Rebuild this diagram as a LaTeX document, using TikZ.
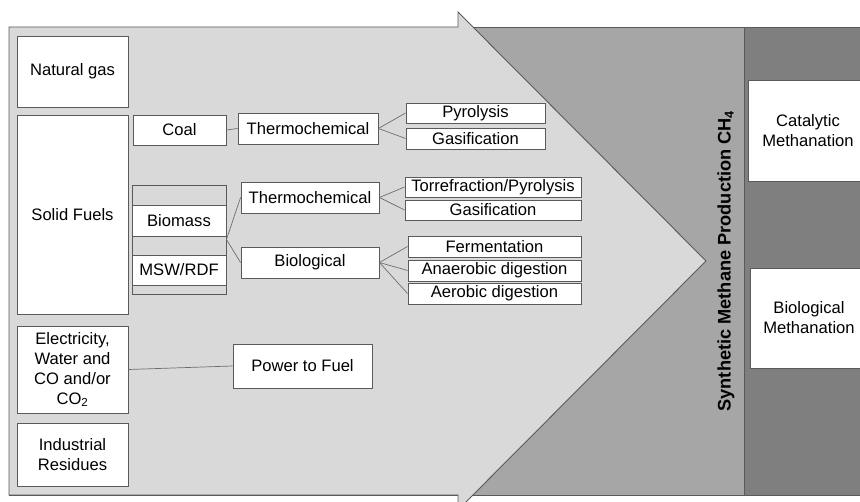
\documentclass[tikz,border=0pt]{standalone}
\usepackage{fontspec}
\setmainfont{Liberation Sans}
\definecolor{lightg}{HTML}{D9D9D9}
\definecolor{midg}{HTML}{A6A6A6}
\definecolor{darkg}{HTML}{7F7F7F}
\definecolor{edge}{HTML}{5A5A5A}
\definecolor{conn}{HTML}{6E6E6E}
\begin{document}
\begin{tikzpicture}[x=1pt,y=-1pt,
  box/.style={draw=edge,line width=0.9pt,fill=white,inner sep=0pt,align=center,
    font=\fontsize{16.6}{20}\selectfont},
  link/.style={draw=conn,line width=0.7pt}]
\useasboundingbox (0,0) rectangle (860,502);
\clip (0,0) rectangle (860,502);
% frame backgrounds
\fill[midg] (9,27) rectangle (744,495);
\fill[darkg] (744,27) rectangle (870,495);
\draw[edge,line width=0.9pt] (870,27) -- (9,27) -- (9,495) -- (870,495);
\draw[edge,line width=0.9pt] (744,27) -- (744,495);
% big arrow
\draw[edge,line width=0.9pt,fill=lightg] (9,27) -- (458,27) -- (458,12) -- (706,261) -- (458,510) -- (458,495) -- (9,495) -- cycle;
% left column
\node[box,minimum width=111pt,minimum height=71pt] (ng) at (72.5,71.5) {Natural gas};
\node[box,minimum width=111pt,minimum height=199pt] (sf) at (72.5,214.5) {Solid Fuels};
\node[box,minimum width=111pt,minimum height=87pt] (el) at (72.5,369.5) {Electricity,\\Water and\\CO and/or\\CO\textsubscript{2}};
\node[box,minimum width=111pt,minimum height=63pt] (ir) at (72.5,454.5) {Industrial\\Residues};
% coal branch
\node[box,minimum width=93pt,minimum height=30pt] (coal) at (179.5,130) {Coal};
\node[box,minimum width=140pt,minimum height=31pt] (th1) at (308,128.5) {Thermochemical};
\node[box,minimum width=139pt,minimum height=20pt] (pyr) at (475.5,113) {Pyrolysis};
\node[box,minimum width=139pt,minimum height=21pt] (gas1) at (475.5,138.5) {Gasification};
% biomass stack
\node[box,fill=lightg,minimum width=94pt,minimum height=109pt] (stack) at (179,239.5) {};
\node[box,minimum width=94pt,minimum height=31pt] (bio) at (179,220.5) {Biomass};
\node[box,minimum width=94pt,minimum height=30pt] (msw) at (179,270) {MSW/RDF};
\node[box,minimum width=138pt,minimum height=31pt] (th2) at (310,197.5) {Thermochemical};
\node[box,minimum width=138pt,minimum height=31pt] (biol) at (310,262.5) {Biological};
\node[box,minimum width=176pt,minimum height=20pt] (tor) at (493,187) {Torrefraction/Pyrolysis};
\node[box,minimum width=176pt,minimum height=20pt] (gas2) at (493,210) {Gasification};
\node[box,minimum width=173pt,minimum height=21pt] (fer) at (494.5,246.5) {Fermentation};
\node[box,minimum width=173pt,minimum height=21pt] (ana) at (494.5,270.5) {Anaerobic digestion};
\node[box,minimum width=173pt,minimum height=21pt] (aer) at (494.5,293.5) {Aerobic digestion};
% power to fuel
\node[box,minimum width=139pt,minimum height=44pt] (ptf) at (302.5,366) {Power to Fuel};
% right column
\node[box,minimum width=120pt,minimum height=101pt] (cat) at (808,130.5) {Catalytic\\Methanation};
\node[box,minimum width=118pt,minimum height=100pt] (biom) at (809,318) {Biological\\Methanation};
\node[rotate=90,inner sep=0pt,font=\fontsize{18.2}{20}\selectfont\bfseries] (syn) at (726,261) {Synthetic Methane Production CH\textsubscript{4}};
% connectors
\draw[link] (coal.east) -- (th1.west);
\draw[link] (th1.east) -- (pyr.west);
\draw[link] (th1.east) -- (gas1.west);
\draw[link] (stack.east) -- (th2.west);
\draw[link] (stack.east) -- (biol.west);
\draw[link] (th2.east) -- (tor.west);
\draw[link] (th2.east) -- (gas2.west);
\draw[link] (biol.east) -- (fer.west);
\draw[link] (biol.east) -- (ana.west);
\draw[link] (biol.east) -- (aer.west);
\draw[link] (el.east) -- (ptf.west);
\end{tikzpicture}
\end{document}
